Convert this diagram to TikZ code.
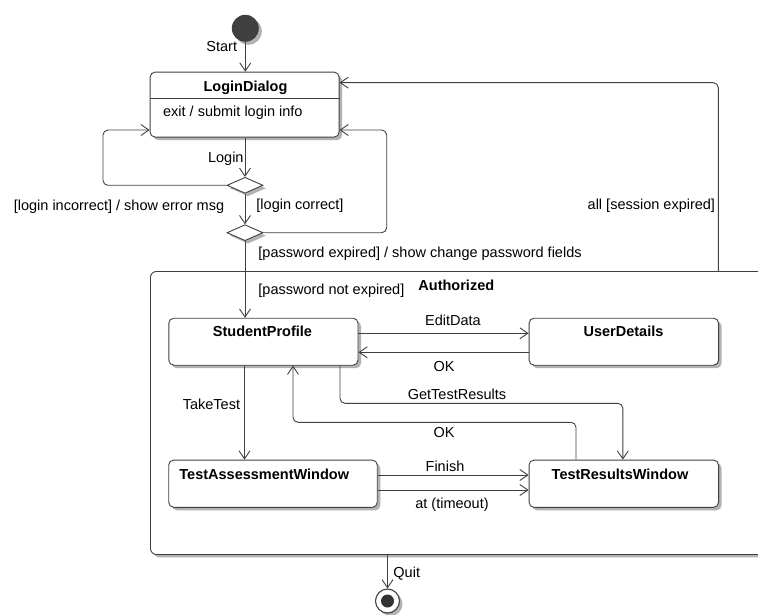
\documentclass[tikz,border=0pt]{standalone}
\usepackage{fontspec}
\setmainfont{Liberation Sans}
\usetikzlibrary{arrows.meta,shapes.geometric,shadows}
\begin{document}
\begin{tikzpicture}[x=1pt,y=-1pt,
  font=\fontsize{14.5}{17}\selectfont,
  line width=0.9pt,
  conn/.style={draw=black!75, -{Straight Barb[length=8pt,width=11pt]}, rounded corners=5pt},
  shad/.style={drop shadow={shadow xshift=3pt,shadow yshift=-3pt,fill=black!30,opacity=1}},
  statebox/.style={draw=black!75, fill=white, rounded corners=5pt, shad, inner sep=0pt, minimum height=47pt},
  choice/.style={diamond, draw=black!75, fill=white, shad, inner sep=0pt, minimum width=36pt, minimum height=16pt},
  lbl/.style={inner sep=0pt, text=black},
  ttl/.style={inner sep=0pt, font=\fontsize{14.5}{17}\selectfont\bfseries},
]
\useasboundingbox (0,0) rectangle (758,615);
\clip (0,0) rectangle (758,615);

% composite state
\node[draw=black!75, fill=white, rounded corners=6pt, shad, inner sep=0pt,
      minimum width=640pt, minimum height=283pt, anchor=north west] (auth) at (150,271) {};
\node[ttl, anchor=west] (auth-t) at (418,285) {Authorized};

% initial state
\node[circle, fill=black!75, inner sep=0pt, minimum size=27pt, shad] (init) at (245.3,28.3) {};

% LoginDialog
\node[statebox, minimum width=189pt, minimum height=65pt] (login) at (244.6,104.6) {};
\draw[draw=black!75] (login.west |- 0,98.3) -- (login.east |- 0,98.3);
\node[ttl] (login-t) at (245.5,87.3) {LoginDialog};
\node[lbl, anchor=west] (login-exit) at (162.7,112.3) {exit / submit login info};

% choices
\node[choice] (d1) at (245,185.3) {};
\node[choice] (d2) at (245,232.7) {};

% inner states
\node[statebox, minimum width=189.2pt] (sp) at (263.4,341.7) {};
\node[statebox, minimum width=189.5pt] (ud) at (623.8,341.7) {};
\node[statebox, minimum width=208.5pt, minimum height=47.3pt] (ta) at (273,483.7) {};
\node[statebox, minimum width=189.5pt, minimum height=47.3pt] (tr) at (623.8,483.7) {};
\node[ttl] (sp-t) at (262.5,331.7) {StudentProfile};
\node[ttl] (ud-t) at (623.5,331.7) {UserDetails};
\node[ttl, anchor=west] (ta-t) at (179,474) {TestAssessmentWindow};
\node[ttl] (tr-t) at (620,474) {TestResultsWindow};

% final state
\node[circle, draw=black!75, fill=white, line width=1.1pt, inner sep=0pt, minimum size=24pt, shad] (final) at (387.5,601) {};
\node[circle, fill=black!80, inner sep=0pt, minimum size=13pt] (final-in) at (final) {};

% connectors
\draw[conn] (init) -- (init |- login.north);
\draw[conn] (d1 |- login.south) -- (d1.north);
\draw[conn] (d1.west) -- (103,185.3) -- (103,130) -- (login.west |- 0,130);
\draw[conn] (d1.south) -- (d2.north);
\draw[conn] (d2.east) -- (386.7,232.7) -- (386.7,130) -- (login.east |- 0,130);
\draw[conn] (d2.south) -- (d2 |- sp.north);
\draw[conn] (auth.north -| 718.3,0) -- (718.3,82.7) -- (login.east |- 0,82.7);
\draw[conn] (sp.east |- 0,333.3) -- (ud.west |- 0,333.3);
\draw[conn] (ud.west |- 0,352.3) -- (sp.east |- 0,352.3);
\draw[conn] (sp.south -| 340,0) -- (340,403.3) -- (622.8,403.3) -- (tr.north -| 622.8,0);
\draw[conn] (tr.north -| 576,0) -- (576,422.3) -- (293,422.3) -- (sp.south -| 293,0);
\draw[conn] (sp.south -| 244.5,0) -- (ta.north -| 244.5,0);
\draw[conn] (ta.east |- 0,475) -- (tr.west |- 0,475);
\draw[conn] (ta.east |- 0,490) -- (tr.west |- 0,490);
\draw[conn] (auth.south -| final) -- (final.north);

% labels
\node[lbl, anchor=east] (l-start) at (237.5,46.7) {Start};
\node[lbl, anchor=east] (l-login) at (244,158.3) {Login};
\node[lbl] (l-incorrect) at (119,207) {[login incorrect] / show error msg};
\node[lbl, anchor=west] (l-correct) at (256,205.7) {[login correct]};
\node[lbl, anchor=west] (l-pwexp) at (258,253.3) {[password expired] / show change password fields};
\node[lbl, anchor=west] (l-pwnot) at (258,290.5) {[password not expired]};
\node[lbl, anchor=east] (l-session) at (715.5,205.7) {all [session expired]};
\node[lbl] (l-edit) at (453,320.7) {EditData};
\node[lbl] (l-ok1) at (444,366.7) {OK};
\node[lbl] (l-get) at (457,394) {GetTestResults};
\node[lbl] (l-ok2) at (444,432.7) {OK};
\node[lbl, anchor=east] (l-take) at (240.5,404) {TakeTest};
\node[lbl] (l-finish) at (445,466) {Finish};
\node[lbl] (l-timeout) at (452,505) {at (timeout)};
\node[lbl, anchor=west] (l-quit) at (393,574) {Quit};
\end{tikzpicture}
\end{document}
